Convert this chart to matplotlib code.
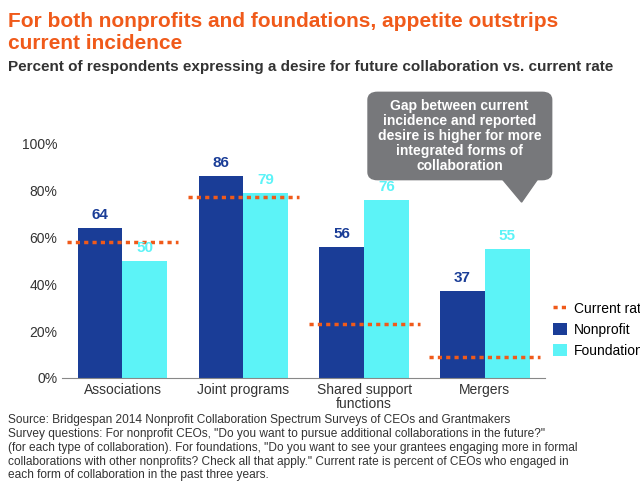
import matplotlib.pyplot as plt
import numpy as np
from matplotlib.patches import FancyBboxPatch, Polygon

plt.rcParams['font.family'] = ['Liberation Sans', 'DejaVu Sans']

categories = ['Associations', 'Joint programs', 'Shared support\nfunctions', 'Mergers']
nonprofit = [64, 86, 56, 37]
foundation = [50, 79, 76, 55]
current_rate = [58, 77, 23, 9]

navy = '#1a3d97'
cyan = '#5cf3f7'
orange = '#f05a1a'

fig = plt.figure(figsize=(6.4, 4.99), dpi=100)
ax = fig.add_axes([0.097, 0.2425, 0.755, 0.4705])

x = np.arange(len(categories))
w = 0.37
ax.bar(x - w / 2, nonprofit, w, color=navy, label='Nonprofit')
ax.bar(x + w / 2, foundation, w, color=cyan, label='Foundation')
for i in range(len(categories)):
    ax.text(x[i] - w / 2, nonprofit[i] + 2.5, str(nonprofit[i]), ha='center', va='bottom',
            color=navy, fontsize=11, fontweight='bold')
    ax.text(x[i] + w / 2, foundation[i] + 2.5, str(foundation[i]), ha='center', va='bottom',
            color=cyan, fontsize=11, fontweight='bold')
    ax.plot([x[i] - 0.46, x[i] + 0.46], [current_rate[i]] * 2, ls=(0, (1.2, 1.2)),
            color=orange, lw=2.5, label='Current rate' if i == 0 else None)

ax.set_xlim(-0.5, 3.5)
ax.set_ylim(0, 100)
ax.set_yticks(range(0, 101, 20))
ax.set_yticklabels([f'{v}%' for v in range(0, 101, 20)], fontsize=10, color='#333333')
ax.set_xticks(x)
ax.set_xticklabels(categories, fontsize=10, color='#333333', linespacing=1.0)
ax.tick_params(length=0)
for s in ['top', 'right', 'left']:
    ax.spines[s].set_visible(False)
ax.spines['bottom'].set_color('#888888')

h, l = ax.get_legend_handles_labels()
order = [l.index('Current rate'), l.index('Nonprofit'), l.index('Foundation')]
fig.legend([h[k] for k in order], [l[k] for k in order], loc='upper left',
           bbox_to_anchor=(0.845, 0.42), frameon=False, fontsize=10,
           handlelength=1.0, handleheight=1.0, handletextpad=0.5)

fig.text(0.012, 0.975, 'For both nonprofits and foundations, appetite outstrips\ncurrent incidence',
         color=orange, fontsize=15, fontweight='bold', va='top', linespacing=1.15)
fig.text(0.012, 0.88, 'Percent of respondents expressing a desire for future collaboration vs. current rate',
         color='#333333', fontsize=11, fontweight='bold', va='top')

# callout
box = FancyBboxPatch((0.575, 0.64), 0.287, 0.175, boxstyle='round,pad=0,rounding_size=0.015',
                     transform=fig.transFigure, color='#77787b', zorder=5)
fig.patches.append(box)
tri = Polygon([[0.785, 0.641], [0.84, 0.641], [0.815, 0.595]], closed=True,
              transform=fig.transFigure, color='#77787b', zorder=5)
fig.patches.append(tri)
fig.text(0.718, 0.727, 'Gap between current\nincidence and reported\ndesire is higher for more\nintegrated forms of\ncollaboration',
         ha='center', va='center', color='white', fontsize=10, fontweight='bold', zorder=6, linespacing=1.1)

fig.text(0.012, 0.17, 'Source: Bridgespan 2014 Nonprofit Collaboration Spectrum Surveys of CEOs and Grantmakers\n'
         'Survey questions: For nonprofit CEOs, "Do you want to pursue additional collaborations in the future?"\n'
         '(for each type of collaboration). For foundations, "Do you want to see your grantees engaging more in formal\n'
         'collaborations with other nonprofits? Check all that apply." Current rate is percent of CEOs who engaged in\n'
         'each form of collaboration in the past three years.',
         fontsize=8.6, color='#333333', va='top', linespacing=1.2)

fig.savefig('out.png', dpi=100)
